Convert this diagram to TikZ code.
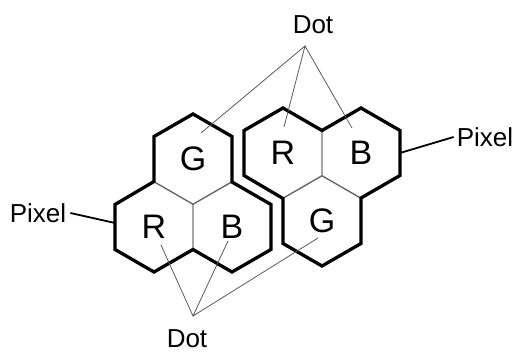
\documentclass[tikz,border=0pt]{standalone}
\usepackage{fontspec}
\setmainfont{Liberation Sans}
\usepackage{tikz}
\usetikzlibrary{shapes.geometric,calc,positioning}

\begin{document}
\begin{tikzpicture}[x=1pt,y=1pt,
    every node/.style={inner sep=0pt},
    cell/.style={regular polygon,regular polygon sides=6,shape border rotate=30,
                 minimum size=90pt,draw=black!60,line width=0.9pt,
                 font=\fontsize{34}{34}\selectfont},
    lbl/.style={font=\fontsize{26}{26}\selectfont},
    outline/.style={line width=3.3pt},
    dotline/.style={black!65,line width=0.8pt},
    pixline/.style={line width=1.8pt}]
  \useasboundingbox (0,0) rectangle (515,354);
  % left pixel
  \node[cell] (lG) at (193,195) {G};
  \node[cell] (lR) at (154,127) {R};
  \node[cell] (lB) at (232,127) {B};
  % right pixel
  \node[cell] (rR) at (283,201) {R};
  \node[cell] (rB) at (361,201) {B};
  \node[cell] (rG) at (322,133) {G};
  \foreach \c in {lG,lR,lB,rR,rB,rG}
    \foreach \a in {30,90,...,330}
      \coordinate (\c-\a) at ($(\c)+(\a:45)$);
  \draw[outline] (lB-90) -- (lG-30) -- (lG-90) -- (lG-150) -- (lG-210)
        -- (lR-150) -- (lR-210) -- (lR-270) -- (lR-330)
        -- (lB-270) -- (lB-330) -- (lB-30) -- cycle;
  \draw[outline] (rR-90) -- (rR-30) -- (rB-90) -- (rB-30) -- (rB-330)
        -- (rB-270) -- (rG-330) -- (rG-270) -- (rG-210)
        -- (rG-150) -- (rR-210) -- (rR-150) -- cycle;
  % dot labels
  \node[lbl] (dotT) at (313,329) {Dot};
  \node[lbl] (dotB) at (187,15) {Dot};
  \coordinate (tipT) at (305,308);
  \coordinate (tipB) at (193,38);
  \coordinate (inLG) at ($(lG)+(8,26)$);
  \coordinate (inRR) at ($(rR)+(1,26)$);
  \coordinate (inRB) at ($(rB)+(-9,25)$);
  \coordinate (inLR) at ($(lR)+(7,-18)$);
  \coordinate (inLB) at ($(lB)+(-4,-14)$);
  \coordinate (inRG) at ($(rG)+(-4,-17)$);
  \draw[dotline] (inLG) -- (tipT) -- (inRR) (tipT) -- (inRB);
  \draw[dotline] (inLR) -- (tipB) -- (inLB) (tipB) -- (inRG);
  % pixel labels
  \node[lbl] (pixL) at (38,141) {Pixel};
  \node[lbl] (pixR) at (485,217) {Pixel};
  \draw[pixline] ([xshift=4pt]pixL.east) -- (lR-150 |- 0,131);
  \draw[pixline] (rB-30 |- 0,201) -- ([xshift=-3pt]pixR.west);
\end{tikzpicture}
\end{document}
